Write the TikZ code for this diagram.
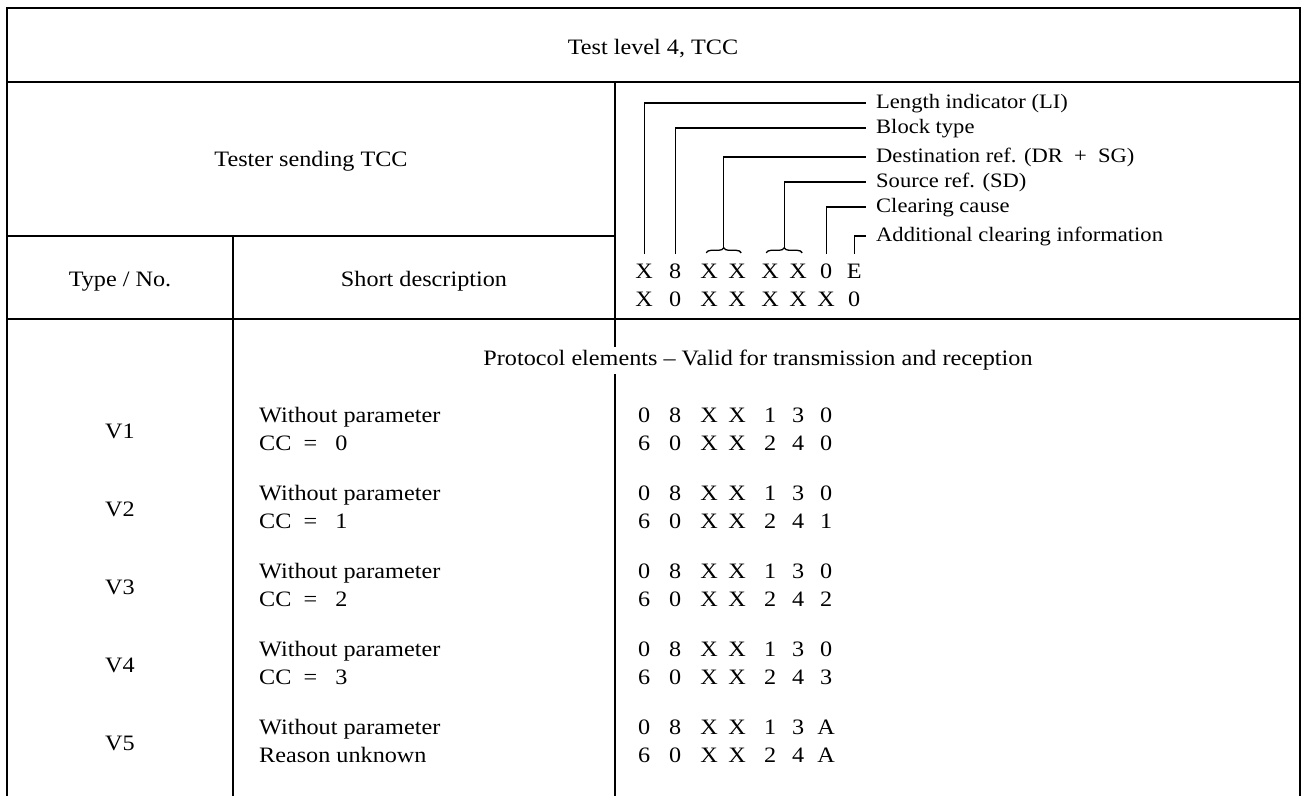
\documentclass[tikz,border=0pt]{standalone}
\usepackage{fontspec}
\setmainfont{Liberation Serif}[FakeStretch=1.1]
\usetikzlibrary{matrix,calc,decorations.pathreplacing}

\begin{document}
\begin{tikzpicture}[x=1pt, y=-1pt, tabline/.style={line width=1.8pt}, leader/.style={line width=1.3pt}, tabtext/.style={font=\fontsize{22}{27}\selectfont, inner sep=0pt}, fieldname/.style={font=\fontsize{20.5}{24}\selectfont, anchor=west, inner xsep=10pt, inner ysep=0pt, text height=14pt, text depth=4pt}]
	\useasboundingbox (0,0) rectangle (1302,796);
	\coordinate (vx) at (120,0);
	\coordinate (dx) at (259,0);
	\coordinate (c2top) at (615,82);
	\coordinate (c2bot) at (615,796);
	\draw[tabline] (7,796) -- (7,8) -- (1300,8) -- (1300,796);
	\draw[tabline] (7,82) -- (1300,82);
	\draw[tabline] (7,236) -- (615,236);
	\draw[tabline] (7,319) -- (1300,319);
	\draw[tabline] (233,236) -- (233,796);
	\node[tabtext, anchor=base] (title) at (653,54) {Test level 4, TCC};
	\node[tabtext, anchor=base] (tester) at (311,166) {Tester sending TCC};
	\node[tabtext, anchor=base] (typeno) at (120,286) {Type / No.};
	\node[tabtext, anchor=base] (shortd) at (424,286) {Short description};
	\node[tabtext, inner ysep=3.5pt] (proto) at (758,360.5) {Protocol elements -- Valid for transmission and reception};
	\draw[tabline] (c2top) -- (c2top |- proto.north);
	\draw[tabline] (c2bot |- proto.south) -- (c2bot);
	\matrix(code)[matrix of nodes, anchor=north west, inner sep=0pt, row sep=8.5pt, column sep=0pt, nodes={font=\fontsize{22}{27}\selectfont, inner sep=0pt, minimum width=28pt, text height=15pt, text depth=5pt}] at (630,262.8){
		X	&[3pt]8	&[6pt]X	&X	&[5pt]X	&X	&0	&E	\\
		X	&0	&X	&X	&X	&X	&X	&0	\\[87pt]
		0	&8	&X	&X	&1	&3	&0	\\
		6	&0	&X	&X	&2	&4	&0	\\[21pt]
		0	&8	&X	&X	&1	&3	&0	\\
		6	&0	&X	&X	&2	&4	&1	\\[21pt]
		0	&8	&X	&X	&1	&3	&0	\\
		6	&0	&X	&X	&2	&4	&2	\\[21pt]
		0	&8	&X	&X	&1	&3	&0	\\
		6	&0	&X	&X	&2	&4	&3	\\[21pt]
		0	&8	&X	&X	&1	&3	&A	\\
		6	&0	&X	&X	&2	&4	&A	\\
	};
	\node[fieldname] (li) at (866,103) {Length indicator (LI)};
	\node[fieldname] (bt) at (866,128) {Block type};
	\node[fieldname] (dest) at (866,157) {Destination ref. (DR \ + \ SG)};
	\node[fieldname] (src) at (866,182) {Source ref. (SD)};
	\node[fieldname] (cc) at (866,207) {Clearing cause};
	\node[fieldname] (aci) at (866,236) {Additional clearing information};
	\draw[leader, decorate, decoration={brace, amplitude=5pt}] ([shift={(-3,-10)}]code-1-3.north) -- ([shift={(4,-10)}]code-1-4.north);
	\draw[leader, decorate, decoration={brace, amplitude=5pt}] ([shift={(-4,-10)}]code-1-5.north) -- ([shift={(4,-10)}]code-1-6.north);
	\coordinate (dr) at ($(code-1-3.north)!0.5!(code-1-4.north)+(0,-15)$);
	\coordinate (sd) at ($(code-1-5.north)!0.5!(code-1-6.north)+(0,-15)$);
	\draw[leader] ([yshift=9pt]code-1-1.north) |- (li.west);
	\draw[leader] ([yshift=9pt]code-1-2.north) |- (bt.west);
	\draw[leader] (dr) |- (dest.west);
	\draw[leader] (sd) |- (src.west);
	\draw[leader] ([yshift=9pt]code-1-7.north) |- (cc.west);
	\draw[leader] ([yshift=9pt]code-1-8.north) |- (aci.west);
	\node[tabtext, anchor=base] (v1) at ($(vx |- code-3-1.base)!0.5!(vx |- code-4-1.base)+(0,2)$) {V1};
	\node[tabtext, anchor=base west] (d1a) at (dx |- code-3-1.base) {Without parameter};
	\node[tabtext, anchor=base west] (d1b) at (dx |- code-4-1.base) {CC\ \ =\ \ \ 0};
	\node[tabtext, anchor=base] (v2) at ($(vx |- code-5-1.base)!0.5!(vx |- code-6-1.base)+(0,2)$) {V2};
	\node[tabtext, anchor=base west] (d2a) at (dx |- code-5-1.base) {Without parameter};
	\node[tabtext, anchor=base west] (d2b) at (dx |- code-6-1.base) {CC\ \ =\ \ \ 1};
	\node[tabtext, anchor=base] (v3) at ($(vx |- code-7-1.base)!0.5!(vx |- code-8-1.base)+(0,2)$) {V3};
	\node[tabtext, anchor=base west] (d3a) at (dx |- code-7-1.base) {Without parameter};
	\node[tabtext, anchor=base west] (d3b) at (dx |- code-8-1.base) {CC\ \ =\ \ \ 2};
	\node[tabtext, anchor=base] (v4) at ($(vx |- code-9-1.base)!0.5!(vx |- code-10-1.base)+(0,2)$) {V4};
	\node[tabtext, anchor=base west] (d4a) at (dx |- code-9-1.base) {Without parameter};
	\node[tabtext, anchor=base west] (d4b) at (dx |- code-10-1.base) {CC\ \ =\ \ \ 3};
	\node[tabtext, anchor=base] (v5) at ($(vx |- code-11-1.base)!0.5!(vx |- code-12-1.base)+(0,2)$) {V5};
	\node[tabtext, anchor=base west] (d5a) at (dx |- code-11-1.base) {Without parameter};
	\node[tabtext, anchor=base west] (d5b) at (dx |- code-12-1.base) {Reason unknown};
\end{tikzpicture}
\end{document}
